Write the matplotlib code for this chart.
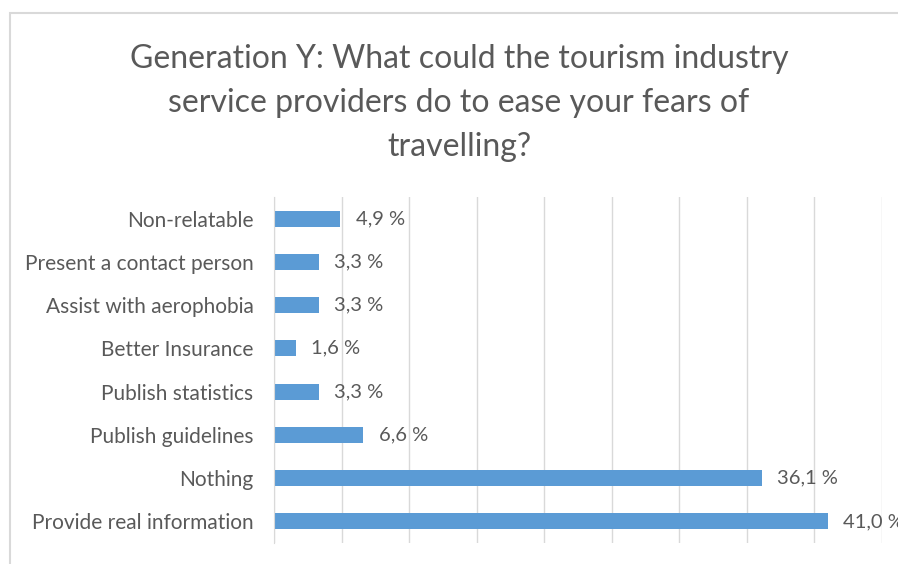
import matplotlib.pyplot as plt
from matplotlib.patches import Rectangle

plt.rcParams['font.family'] = ['Lato', 'DejaVu Sans']

categories = ['Non-relatable', 'Present a contact person', 'Assist with aerophobia',
              'Better Insurance', 'Publish statistics', 'Publish guidelines',
              'Nothing', 'Provide real information']
shares = [4.9, 3.3, 3.3, 1.6, 3.3, 6.6, 36.1, 41.0]
value_labels = ['4,9 %', '3,3 %', '3,3 %', '1,6 %', '3,3 %', '6,6 %', '36,1 %', '41,0 %']

W, H = 898, 564
fig = plt.figure(figsize=(W / 100, H / 100), dpi=100)
txt = '#595959'
grid = '#D9D9D9'

# chart border, running off the right and bottom edges
fig.patches.append(Rectangle((10 / W, -0.1), 1.2, 1 - 13 / H + 0.1,
                             transform=fig.transFigure, fill=False,
                             edgecolor=grid, linewidth=1.5))

ax = fig.add_axes([274.3 / W, 1 - 543 / H, (881.7 - 274.3) / W, (543 - 197) / H])
y = list(range(len(categories)))
ax.barh(y, shares, height=0.37, color='#5B9BD5', zorder=2)
ax.set_ylim(len(categories) - 0.5, -0.5)
ax.set_xlim(0, 45)
ax.set_xticks(range(0, 46, 5))
ax.xaxis.grid(True, color=grid, linewidth=1)
ax.tick_params(axis='x', length=0, labelbottom=False)
ax.tick_params(axis='y', length=0, pad=15, labelsize=15, labelcolor=txt)
ax.set_yticks(y)
ax.set_yticklabels(categories)
for s in ['top', 'right', 'bottom']:
    ax.spines[s].set_visible(False)
ax.spines['left'].set_color(grid)

for yi, v, lab in zip(y, shares, value_labels):
    ax.annotate(lab, (v, yi), xytext=(11, 0), textcoords='offset points',
                va='center', ha='left', fontsize=14.5, color=txt,
                annotation_clip=False)

fig.text(459 / W, 1 - 103 / H,
         'Generation Y: What could the tourism industry\nservice providers do to ease your fears of\ntravelling?',
         ha='center', va='center', fontsize=23, color=txt, linespacing=1.6)

fig.savefig('out.png', dpi=100)
